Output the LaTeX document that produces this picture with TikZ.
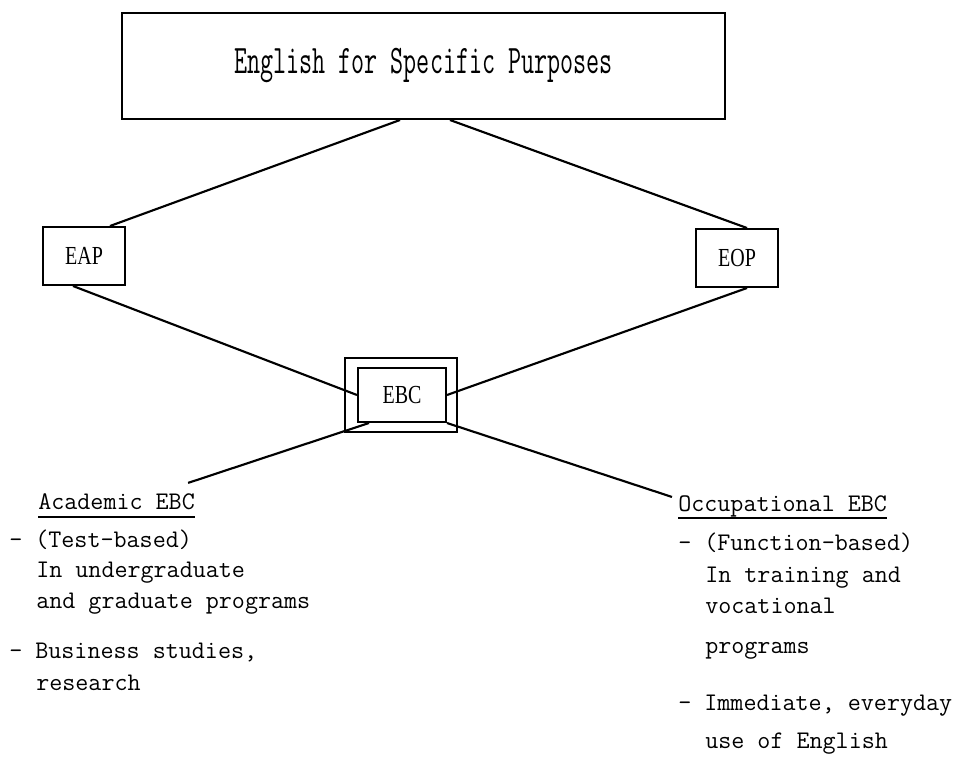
\documentclass[tikz,border=0pt]{standalone}
\usepackage{fontspec}
\usepackage{graphicx}
\newfontfamily\boxfont{Liberation Serif}
\usetikzlibrary{calc}

\tikzset{
	box/.style={draw, line width=1.5pt, inner sep=0pt},
	lbl/.style={font=\boxfont\fontsize{15}{15}\selectfont},
	txt/.style={anchor=base west, inner sep=0pt, font={\ttfamily\fontsize{19}{22}\selectfont}},
	link/.style={line width=1.6pt},
}

\begin{document}
\begin{tikzpicture}[x=0.75pt, y=-0.75pt]
		\useasboundingbox (0,0) rectangle (964,783);
		\node[box, minimum width=452.25pt, minimum height=79.5pt, font={\ttfamily\fontsize{19}{22}\selectfont}] (esp) at (423.5,66) {\scalebox{1}[1.6]{English for Specific Purposes}};
		\node[box, lbl, minimum width=61.5pt, minimum height=43.5pt] (eap) at (84,256) {\scalebox{1}[1.3]{EAP}};
		\node[box, lbl, minimum width=61.5pt, minimum height=43.5pt] (eop) at (737,258) {\scalebox{1}[1.3]{EOP}};
		\node[box, lbl, minimum width=66pt, minimum height=40.5pt] (ebc) at (402,395) {\scalebox{1}[1.3]{EBC}};
		\node[box, line width=2pt, minimum width=84pt, minimum height=55.5pt] (ebcout) at (401,395) {};
		
		\node[txt] (acad) at (38,509) {Academic EBC};
		\node[txt] (occ) at (678,511) {Occupational EBC};
		\draw[line width=1.1pt] ($(acad.base west)+(0,8)$) -- ($(acad.base east)+(0,8)$);
		\draw[line width=1.1pt] ($(occ.base west)+(0,7)$) -- ($(occ.base east)+(0,7)$);
		
		\foreach \n/\x/\y/\t in {1/9/547/{- (Test-based)}, 2/36/577/{In undergraduate}, 3/36/608/{and graduate programs}, 4/9/658/{- Business studies,}, 5/36/690/{research}}
			\node[txt] (acad\n) at (\x,\y) {\t};
		\foreach \n/\x/\y/\t in {1/678/550/{- (Function-based)}, 2/705/582/{In training and}, 3/705/613/{vocational}, 4/705/653/{programs}, 5/678/710/{- Immediate, everyday}, 6/705/748/{use of English}}
			\node[txt] (occ\n) at (\x,\y) {\t};
		
		\draw[link] ($(esp.south)+(-23.5,0)$) -- ($(eap.north)+(26,0)$);
		\draw[link] ($(esp.south)+(26.5,0)$) -- ($(eop.north)+(10,0)$);
		\draw[link] ($(eap.south)+(-11,0)$) -- (ebc.west);
		\draw[link] ($(eop.south)+(10,0)$) -- (ebc.east);
		\draw[link] ($(ebc.south west)+(12,0)$) -- ($(acad.north east)+(-7,-10)$);
		\draw[link] (ebc.south east) -- ($(occ.north west)+(-6,2)$);
\end{tikzpicture}
\end{document}
